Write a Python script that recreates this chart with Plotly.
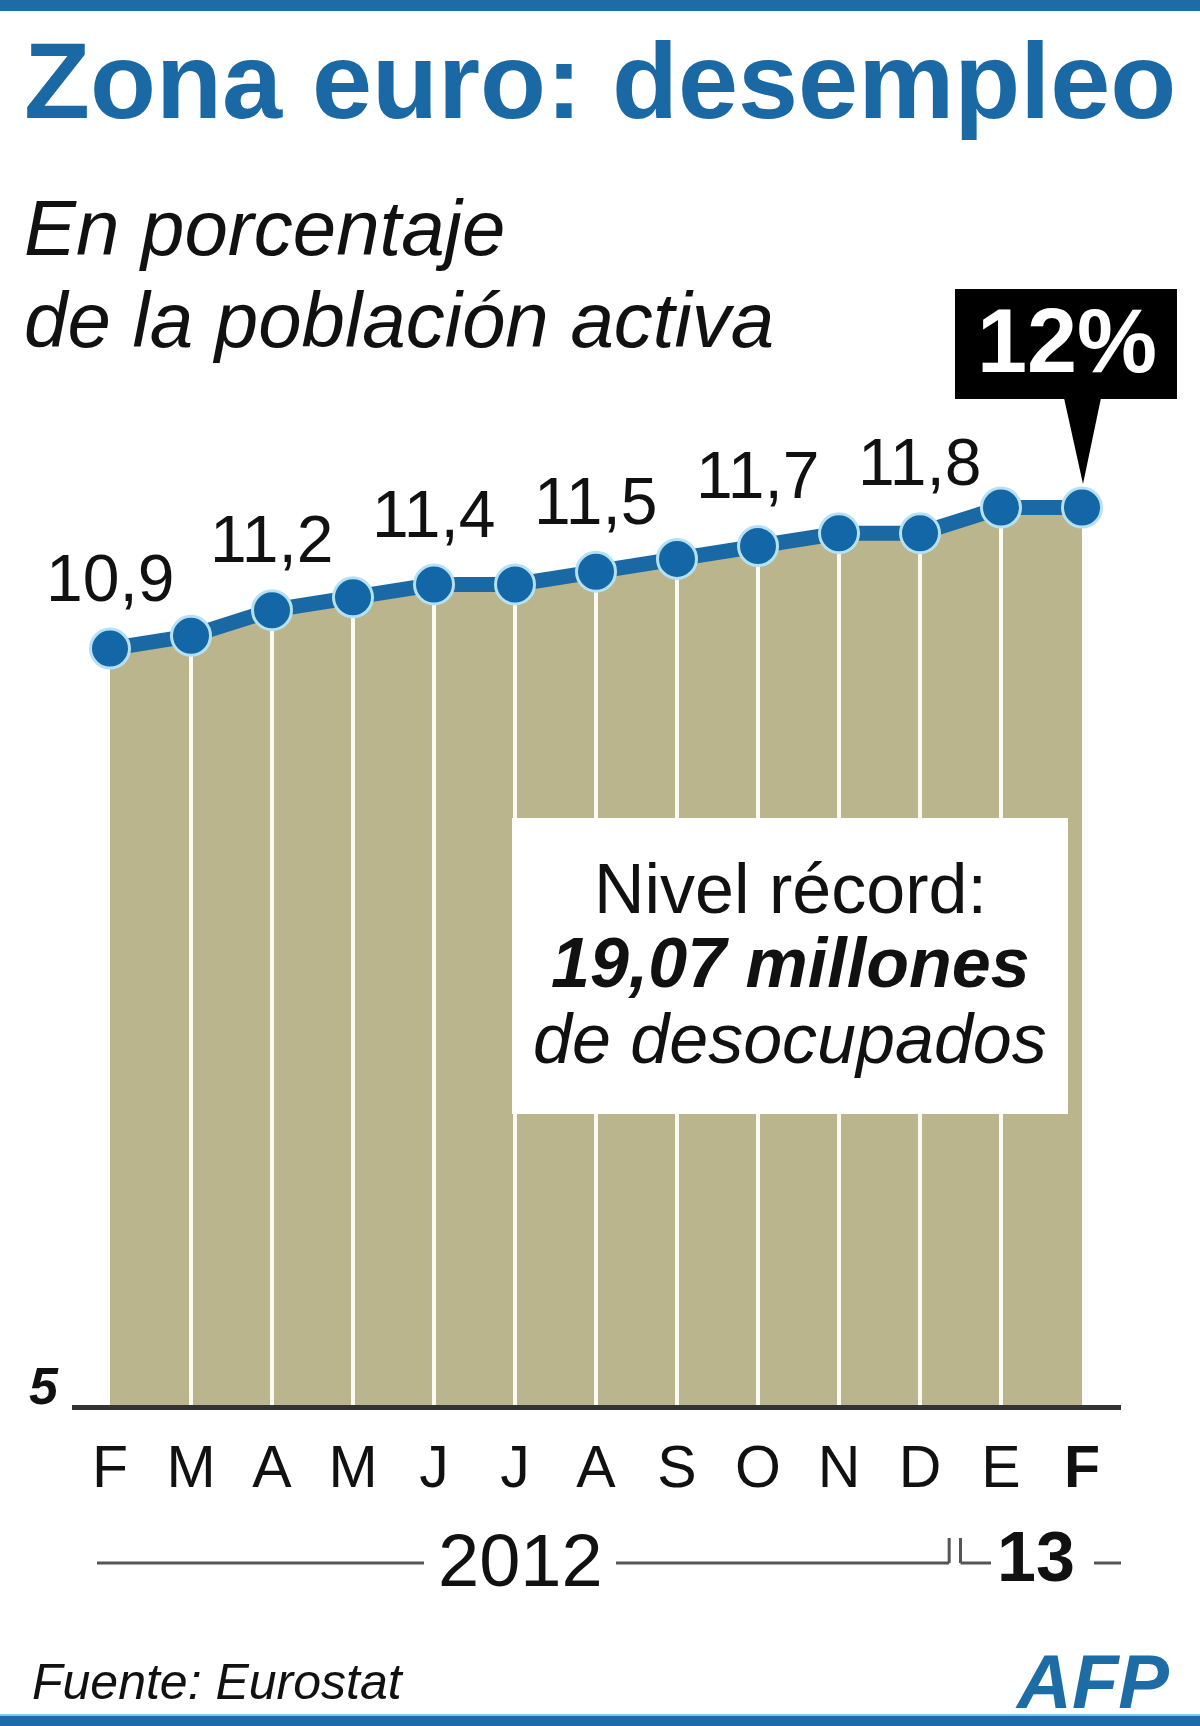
import plotly.graph_objects as go

# ---------------- data ----------------
months = ["F", "M", "A", "M", "J", "J", "A", "S", "O", "N", "D", "E", "F"]
years_of_month = [2012] * 11 + [2013] * 2
unemployment = [10.9, 11.0, 11.2, 11.3, 11.4, 11.4, 11.5, 11.6, 11.7, 11.8, 11.8, 12.0, 12.0]
labelled_idx = [0, 2, 4, 6, 8, 10]
last_label = "12%"
y_base = 5
title = "Zona euro: desempleo"
subtitle_lines = ["En porcentaje", "de la población activa"]
note_lines = ["Nivel récord:", "<b>19,07 millones</b>", "de desocupados"]
source = "Fuente: Eurostat"

# ---------------- geometry helpers ----------------
W, H = 1200, 1726
L, R, T, B = 72, 1121, 300, 1405
X0PIX, X12PIX = 110, 1082
xunit = (X12PIX - X0PIX) / 12.0
yunit = 128.2
xmin = -(X0PIX - L) / xunit
xmax = 12 + (R - X12PIX) / xunit
ymax = y_base + (B - T) / yunit


def px(x):
    return (x - L) / (R - L)


def py(y):
    return (B - y) / (B - T)


def dx(xpix):
    return (xpix - X0PIX) / xunit


FONT = "Liberation Sans, Arial, sans-serif"
BLUE = "#1a69a4"
idx = list(range(len(months)))

fig = go.Figure()

# filled area
fig.add_trace(go.Scatter(x=idx, y=unemployment, mode="lines", fill="tozeroy",
                         fillcolor="#bab58c", line=dict(width=0, color="#bab58c"),
                         hoverinfo="skip", showlegend=False))

# white separators at interior points
sx, sy = [], []
for i in idx[1:-1]:
    sx += [i, i, None]
    sy += [y_base, unemployment[i], None]
fig.add_trace(go.Scatter(x=sx, y=sy, mode="lines", line=dict(color="#fbfbf2", width=4),
                         hoverinfo="skip", showlegend=False))

# blue line + markers
fig.add_trace(go.Scatter(x=idx, y=unemployment, mode="lines+markers",
                         line=dict(color=BLUE, width=15),
                         marker=dict(size=39, color="#1467a6",
                                     line=dict(color="#b5e1f4", width=3)),
                         showlegend=False))

annotations = []
# value labels
for i in labelled_idx:
    annotations.append(dict(x=i, y=unemployment[i], xref="x", yref="y",
                            text=f"{unemployment[i]:.1f}".replace(".", ","),
                            showarrow=False, yanchor="middle", xanchor="center",
                            yshift=71, font=dict(family=FONT, size=66, color="#111111")))

shapes = []
# top & bottom blue bars
shapes.append(dict(type="rect", xref="paper", yref="paper", x0=px(0), x1=px(W),
                   y0=py(0), y1=py(11), fillcolor="#1d6ca5", line=dict(width=0), layer="above"))
shapes.append(dict(type="rect", xref="paper", yref="paper", x0=px(0), x1=px(W),
                   y0=py(1716), y1=py(1726), fillcolor="#1d6ca5", line=dict(width=0), layer="above"))
shapes.append(dict(type="line", xref="paper", yref="paper", x0=px(0), x1=px(W),
                   y0=py(1715), y1=py(1715), line=dict(color="#8cc6e6", width=2), layer="above"))

# title
annotations.append(dict(x=px(22), y=py(80), xref="paper", yref="paper", text=f"<b>{title}</b>",
                        showarrow=False, xanchor="left", yanchor="middle",
                        font=dict(family=FONT, size=108, color=BLUE)))
# subtitle
for k, (line, base) in enumerate(zip(subtitle_lines, [256, 348])):
    annotations.append(dict(x=px(22), y=py(base - 28), xref="paper", yref="paper", text=line,
                            showarrow=False, xanchor="left", yanchor="middle",
                            font=dict(family=FONT, size=78, color="#111111", style="italic")))

# 12% callout
shapes.append(dict(type="rect", xref="paper", yref="paper", x0=px(955), x1=px(1177),
                   y0=py(399), y1=py(289), fillcolor="#000000", line=dict(width=0), layer="above"))
shapes.append(dict(type="path", xref="paper", yref="paper",
                   path=f"M {px(1064)},{py(398)} L {px(1101)},{py(398)} L {px(1083)},{py(484)} Z",
                   fillcolor="#000000", line=dict(width=0), layer="above"))
annotations.append(dict(x=px(1067), y=py(341), xref="paper", yref="paper", text=f"<b>{last_label}</b>",
                        showarrow=False, xanchor="center", yanchor="middle",
                        font=dict(family=FONT, size=90, color="#ffffff")))

# record box
shapes.append(dict(type="rect", xref="paper", yref="paper", x0=px(512), x1=px(1068),
                   y0=py(1114), y1=py(818), fillcolor="#ffffff", line=dict(width=0), layer="above"))
for line, cy in zip(note_lines, [889, 963, 1039]):
    annotations.append(dict(x=px(790), y=py(cy), xref="paper", yref="paper", text=line,
                            showarrow=False, xanchor="center", yanchor="middle",
                            font=dict(family=FONT, size=70, color="#111111",
                                      style="normal" if line.startswith("Nivel") else "italic")))

# year brackets
split = years_of_month.index(2013) - 0.5
ly, ty = py(1563), py(1538)
lc = dict(color="#555555", width=3)
for (a, b_) in [(dx(97), dx(424)), (dx(616), split - 0.14), (split, dx(991)), (dx(1094), xmax)]:
    shapes.append(dict(type="line", xref="x", yref="paper", x0=a, x1=b_, y0=ly, y1=ly, line=lc))
shapes.append(dict(type="line", xref="x", yref="paper", x0=split - 0.14, x1=split - 0.14,
                   y0=ly, y1=ty, line=lc))
shapes.append(dict(type="line", xref="x", yref="paper", x0=split, x1=split, y0=ly, y1=ty, line=lc))
annotations.append(dict(x=dx(520), y=py(1560), xref="x", yref="paper", text="2012",
                        showarrow=False, xanchor="center", yanchor="middle",
                        font=dict(family=FONT, size=74, color="#111111")))
annotations.append(dict(x=dx(1036), y=py(1557), xref="x", yref="paper", text="<b>13</b>",
                        showarrow=False, xanchor="center", yanchor="middle",
                        font=dict(family=FONT, size=70, color="#111111")))

# source & logo
annotations.append(dict(x=px(30), y=py(1682), xref="paper", yref="paper", text=source,
                        showarrow=False, xanchor="left", yanchor="middle",
                        font=dict(family=FONT, size=50, color="#111111", style="italic")))
annotations.append(dict(x=px(1171), y=py(1681), xref="paper", yref="paper", text="<b>AFP</b>",
                        showarrow=False, xanchor="right", yanchor="middle",
                        font=dict(family=FONT, size=76, color="#1d6ca5", style="italic")))

ticktext = months[:-1] + [f"<b>{months[-1]}</b>"]

fig.update_layout(
    width=W, height=H,
    margin=dict(l=L, r=W - R, t=T, b=H - B, pad=0, autoexpand=False),
    paper_bgcolor="#ffffff", plot_bgcolor="#ffffff",
    showlegend=False,
    xaxis=dict(range=[xmin, xmax], tickvals=idx, ticktext=ticktext, automargin=False,
               showgrid=False, zeroline=False, showline=True, linecolor="#333333", linewidth=5,
               ticks="outside", ticklen=6, tickcolor="rgba(0,0,0,0)",
               tickfont=dict(family=FONT, size=59, color="#111111")),
    yaxis=dict(range=[y_base, ymax], tickvals=[y_base], ticktext=[str(y_base)], automargin=False,
               showgrid=False, zeroline=False, showline=False,
               ticks="", ticklabelposition="outside top", ticklabelstandoff=13,
               ticklabelshift=17,
               tickfont=dict(family=FONT, size=52, color="#111111", weight="bold", style="italic")),
    annotations=annotations, shapes=shapes,
)

fig.write_html("out.html", config={"displayModeBar": False},
               post_script="document.body.style.margin='0px';document.body.style.overflow='hidden';")
